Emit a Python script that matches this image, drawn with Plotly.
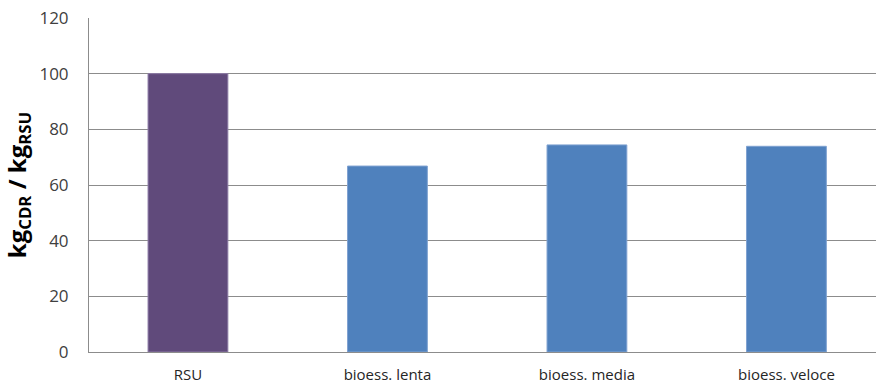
import plotly.graph_objects as go

# Output of CDR per kg of RSU for each treatment
categories = ["RSU", "bioess. lenta", "bioess. media", "bioess. veloce"]
values = [100.0, 66.8, 74.4, 73.9]
bar_colors = ["#604A7B", "#4F81BD", "#4F81BD", "#4F81BD"]
edge_colors = ["#8C7AA6", "#7FA2D1", "#7FA2D1", "#7FA2D1"]
y_ticks = [0, 20, 40, 60, 80, 100, 120]

fig = go.Figure()
fig.add_trace(go.Bar(
    x=categories,
    y=values,
    width=0.40,
    marker=dict(color=bar_colors, line=dict(color=edge_colors, width=1)),
    hoverinfo="x+y",
))

fig.update_layout(
    width=876,
    height=383,
    margin=dict(l=89, r=0, t=18, b=31),
    paper_bgcolor="white",
    plot_bgcolor="white",
    showlegend=False,
    font=dict(family="Open Sans, Liberation Sans, sans-serif", color="#404040"),
    xaxis=dict(
        range=[-0.496, 3.449],
        showgrid=False,
        showline=True,
        linecolor="#8C8C8C",
        linewidth=1,
        ticks="",
        tickfont=dict(size=15, color="#262626"),
        ticklabelstandoff=9,
    ),
    yaxis=dict(
        range=[0, 120],
        tickvals=y_ticks,
        showgrid=True,
        gridcolor="#8C8C8C",
        gridwidth=1,
        showline=True,
        linecolor="#8C8C8C",
        linewidth=1,
        zeroline=False,
        ticks="",
        tickfont=dict(size=17, color="#404040"),
        ticklabelstandoff=16,
        title=dict(
            text="<b>kg<sub>CDR</sub> / kg<sub>RSU</sub></b>",
            font=dict(size=24, color="#000000"),
            standoff=6,
        ),
    ),
)

fig.write_html("out.html")
